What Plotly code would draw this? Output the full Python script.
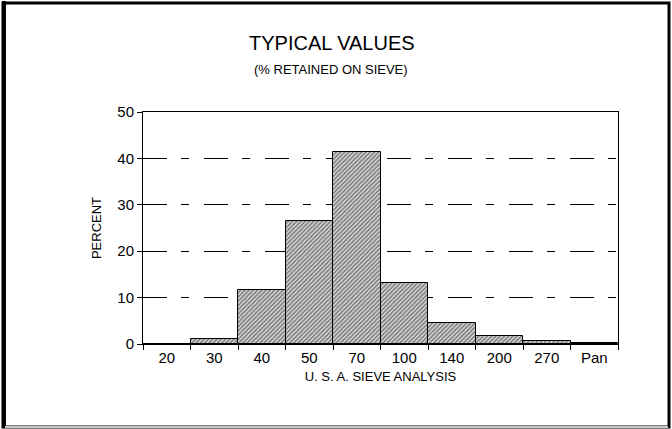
import plotly.graph_objects as go

categories = ["20", "30", "40", "50", "70", "100", "140", "200", "270", "Pan"]
percent = [0.0, 1.1, 11.6, 26.6, 41.4, 13.1, 4.5, 1.7, 0.6, 0.2]
y_ticks = [0, 10, 20, 30, 40, 50]

W, H = 672, 429
L, R, T, B = 143, 54, 112, 85
pw, ph = W - L - R, H - T - B

def px_x(x):
    return (x - L) / pw

def px_y(y):
    return 1 - (y - T) / ph

FONT = "Liberation Sans, Arial, sans-serif"

fig = go.Figure()
fig.add_trace(go.Bar(
    x=categories, y=percent,
    marker=dict(
        color="#d8d8d8",
        line=dict(color="black", width=1),
        pattern=dict(shape="/", size=3, solidity=0.5, fgcolor="#1a1a1a", bgcolor="#d8d8d8"),
    ),
    width=1.0,
    hoverinfo="x+y",
))

fig.update_layout(
    width=W, height=H,
    margin=dict(l=L, r=R, t=T, b=B),
    paper_bgcolor="white", plot_bgcolor="white",
    bargap=0, showlegend=False,
    font=dict(family=FONT, color="black"),
)

fig.update_xaxes(
    type="category", range=[-0.5, 9.5],
    tickson="boundaries", ticks="outside", ticklen=5, tickcolor="black", tickwidth=1,
    showline=True, linecolor="black", linewidth=1, mirror=True,
    showgrid=False, tickfont=dict(size=15, family=FONT),
    title=dict(text="U. S. A. SIEVE ANALYSIS", font=dict(size=13, family=FONT), standoff=6),
)
fig.update_yaxes(
    range=[0, 50], tickvals=y_ticks,
    ticks="outside", ticklen=5, tickcolor="black", tickwidth=1,
    showline=True, linecolor="black", linewidth=1, mirror=True,
    showgrid=True, gridcolor="black", gridwidth=1, griddash="24px,14px,8px,15px",
    zeroline=False, tickfont=dict(size=15, family=FONT),
    title=dict(text="PERCENT", font=dict(size=13, family=FONT), standoff=12),
)

fig.add_annotation(text="TYPICAL VALUES", xref="paper", yref="paper",
                   x=px_x(332), y=px_y(43), showarrow=False,
                   font=dict(size=20, family=FONT), xanchor="center", yanchor="middle")
fig.add_annotation(text="(% RETAINED ON SIEVE)", xref="paper", yref="paper",
                   x=px_x(331), y=px_y(69), showarrow=False,
                   font=dict(size=13, family=FONT), xanchor="center", yanchor="middle")

# outer frame
fig.add_shape(type="rect", xref="paper", yref="paper",
              x0=px_x(3), x1=px_x(669), y0=px_y(3), y1=px_y(427),
              line=dict(color="black", width=3), fillcolor="rgba(0,0,0,0)", layer="above")
fig.add_shape(type="line", xref="paper", yref="paper", x0=px_x(4), x1=px_x(4), y0=px_y(1), y1=px_y(428),
              line=dict(color="black", width=4))
fig.add_shape(type="line", xref="paper", yref="paper", x0=px_x(5), x1=px_x(668), y0=px_y(427), y1=px_y(427),
              line=dict(color="#c8c8c8", width=2))

fig.write_html("out.html", config={"displayModeBar": False},
               post_script="document.body.style.margin='0';document.body.style.overflow='hidden';")
